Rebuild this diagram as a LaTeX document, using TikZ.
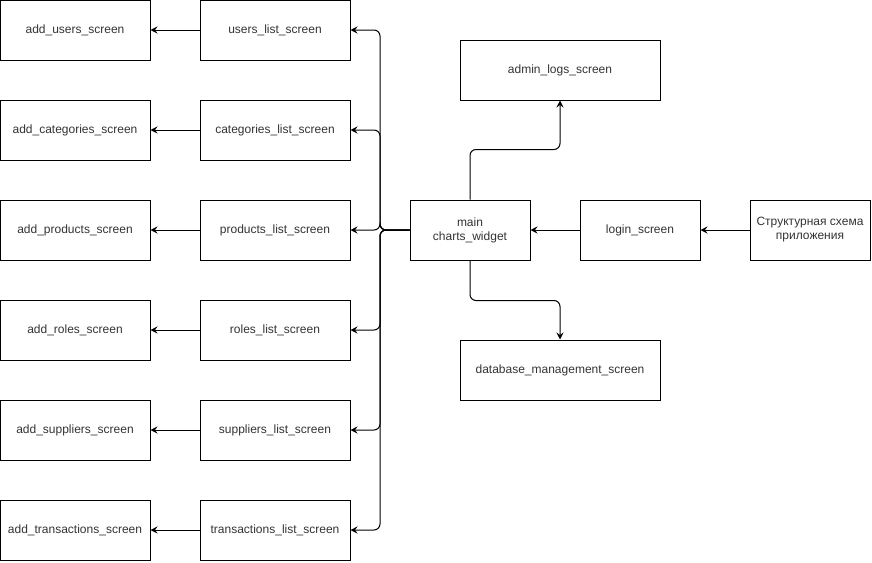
\documentclass[tikz,border=0pt]{standalone}
\usepackage{fontspec}
\setmainfont{Liberation Sans}
\usetikzlibrary{calc,positioning,arrows.meta}
\definecolor{txt}{HTML}{333333}

\begin{document}
\begin{tikzpicture}[x=1pt,y=-1pt,
    screen/.style={draw,rectangle,line width=1pt,minimum width=150pt,minimum height=60pt,
      inner sep=0pt,align=center,text=txt,font=\fontsize{12}{14}\selectfont},
    link/.style={line width=1pt,rounded corners=6pt,-{Stealth[length=7pt,width=7pt,inset=2.5pt]}}]

  \useasboundingbox (0,0) rectangle (872,562);

  \node [screen,minimum width=120pt] at(470,230) (main) {main\\charts\_widget};
  \node [screen,minimum width=120pt] at(640,230) (login) {login\_screen};
  \node [screen,minimum width=120pt] at(810,230) (scheme) {Структурная схема\\приложения};
  \node [screen,minimum width=200pt] at(560,70) (admin_logs) {admin\_logs\_screen};
  \node [screen,minimum width=200pt] at(560,370) (db_manage) {database\_management\_screen};

  \coordinate (bus) at(380,230);

  \foreach \n/\i in {users/0, categories/1, products/2, roles/3, suppliers/4, transactions/5}{

    \node [screen] at($(75,30)+(0,\i*100)$) (add_\n) {add\_\n\_screen};
    \node [screen] at($(275,30)+(0,\i*100)$) (list_\n) {\n\_list\_screen};

    \draw [link] (list_\n.west) -- (add_\n.east);
    \draw [link] (main.west) -- (bus) |- (list_\n.east);

  }

  \draw [link] (scheme.west) -- (login.east);
  \draw [link] (login.west) -- (main.east);
  \draw [link] (main.north) -- ++(0,-50) -| (admin_logs.south);
  \draw [link] (main.south) -- ++(0,40) -| (db_manage.north);
\end{tikzpicture}
\end{document}
